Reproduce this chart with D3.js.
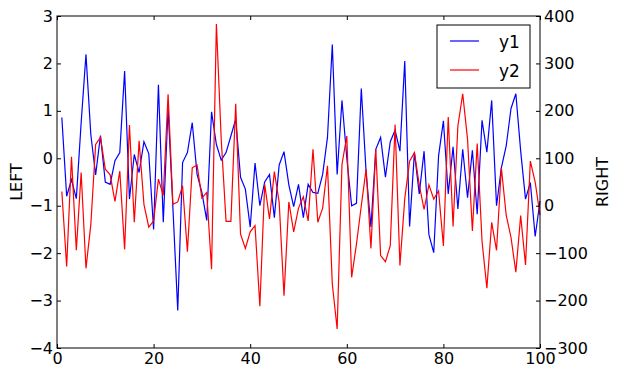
<!DOCTYPE html>
<html>
<head>
<meta charset="utf-8">
<script src="https://cdn.jsdelivr.net/npm/d3@7"></script>
<style>
  body { margin: 0; background: #fff; }
  text { font-family: "DejaVu Sans", sans-serif; }
</style>
</head>
<body>
<svg width="619" height="377"></svg>
<script>
// x runs 1..100
var xs = d3.range(1, 101);

// left axis series
var y1 = [0.86, -0.8, -0.45, -0.85, 0.75, 2.19, 0.5, -0.35, 0.48, -0.5,
  -0.55, -0.05, 0.12, 1.84, -0.86, 0.08, -0.3, 0.35, 0.1, -1.5,
  1.55, -1.35, 1.05, -1.05, -3.21, -0.09, 0.12, 0.75, -0.34, -0.72,
  -1.31, 0.98, 0.29, -0.04, 0.12, 0.47, 0.82, -0.4, -0.65, -1.45,
  -0.1, -1.0, -0.5, -0.34, -1.25, -0.14, 0.14, -0.56, -1.02, -0.55,
  -1.25, -0.55, -0.72, -0.74, -0.34, 0.44, 2.4, -0.34, 1.22, 0.0,
  -1.0, -0.95, 1.47, -0.3, -1.45, 0.19, 0.44, -0.4, 0.35, 0.59,
  0.15, 2.05, -1.44, 0.12, -0.75, 0.15, -1.61, -1.99, 0.05, 0.79,
  -0.75, 0.24, -1.07, 0.19, -0.83, 0.17, -1.18, 0.8, 0.13, 1.22,
  -1.0, -0.2, 0.26, 1.05, 1.36, 0.15, -0.86, -0.51, -1.65, -0.9];

// right axis series
var y2 = [30, -128, 103, -94, 70, -132, -40, 129, 144, 77,
  65, 9, 73, -92, 170, -35, 137, 3, -45, -32,
  56, 22, 235, 3, 8, 42, -97, 80, 86, 16,
  28, -134, 383, 140, -33, -33, 215, -60, -90, -55,
  -42, -212, 45, -28, 72, 7, -190, 8, -55, -5,
  19, -32, 119, -35, -5, 84, -165, -260, 87, 147,
  -151, -81, 0, 77, -90, 119, -105, -118, -84, 171,
  -126, 15, 94, 112, 44, -8, 44, 14, 31, -85,
  187, -44, 168, 236, 140, -53, 131, -75, -174, -35,
  -94, 80, -20, -67, -140, -21, -125, 94, 50, -20];

var xTicks = [0, 20, 40, 60, 80, 100];
var leftTicks = [-4, -3, -2, -1, 0, 1, 2, 3];
var rightTicks = [-300, -200, -100, 0, 100, 200, 300, 400];
var seriesNames = ["y1", "y2"];
var seriesColors = ["#0000ff", "#ff0000"];

var svg = d3.select("svg");
var plotL = 57, plotR = 540, plotT = 16, plotB = 348;

var x = d3.scaleLinear().domain([0, 100]).range([plotL, plotR]);
var yL = d3.scaleLinear().domain([-4, 3]).range([plotB, plotT]);
var yR = d3.scaleLinear().domain([-300, 400]).range([plotB, plotT]);

var fmt = d3.format("d");

// lines
var line1 = d3.line().x(function (d, i) { return x(xs[i]); }).y(function (d) { return yL(d); });
var line2 = d3.line().x(function (d, i) { return x(xs[i]); }).y(function (d) { return yR(d); });

svg.append("path").datum(y1)
  .attr("d", line1).attr("fill", "none")
  .attr("stroke", seriesColors[0]).attr("stroke-width", 1.2);

svg.append("path").datum(y2)
  .attr("d", line2).attr("fill", "none")
  .attr("stroke", seriesColors[1]).attr("stroke-width", 1.2);

// axes, ticks pointing inward
function styleAxis(g) {
  g.select(".domain").remove();
  g.selectAll("text").attr("font-size", 16).attr("fill", "#000")
    .attr("font-family", "DejaVu Sans, sans-serif");
  g.selectAll("line").attr("stroke", "#000");
}

svg.append("g").attr("transform", "translate(0," + plotB + ")")
  .call(d3.axisBottom(x).tickValues(xTicks).tickFormat(fmt).tickSizeInner(-4).tickSizeOuter(0).tickPadding(5))
  .call(styleAxis);

svg.append("g").attr("transform", "translate(0," + plotT + ")")
  .call(d3.axisTop(x).tickValues(xTicks).tickSizeInner(-4).tickSizeOuter(0).tickFormat(""))
  .call(styleAxis);

svg.append("g").attr("transform", "translate(" + plotL + ",0)")
  .call(d3.axisLeft(yL).tickValues(leftTicks).tickFormat(fmt).tickSizeInner(-4).tickSizeOuter(0).tickPadding(4))
  .call(styleAxis);

svg.append("g").attr("transform", "translate(" + plotR + ",0)")
  .call(d3.axisRight(yR).tickValues(rightTicks).tickFormat(fmt).tickSizeInner(-4).tickSizeOuter(0).tickPadding(4))
  .call(styleAxis);

// frame
svg.append("rect")
  .attr("x", plotL).attr("y", plotT)
  .attr("width", plotR - plotL).attr("height", plotB - plotT)
  .attr("fill", "none").attr("stroke", "#000").attr("stroke-width", 1);

// axis titles
svg.append("text")
  .attr("transform", "translate(22," + (plotT + plotB) / 2 + ") rotate(-90)")
  .attr("text-anchor", "middle")
  .attr("font-size", 16)
  .text("LEFT");

svg.append("text")
  .attr("transform", "translate(608," + (plotT + plotB) / 2 + ") rotate(-90)")
  .attr("text-anchor", "middle")
  .attr("font-size", 16)
  .text("RIGHT");

// legend
var legend = svg.append("g").attr("transform", "translate(437,25)");
legend.append("rect")
  .attr("width", 93).attr("height", 63)
  .attr("fill", "#fff").attr("stroke", "#000").attr("stroke-width", 1);

legend.selectAll("g.item")
  .data(seriesNames)
  .enter()
  .append("g")
  .attr("class", "item")
  .attr("transform", function (d, i) { return "translate(0," + (16 + i * 29) + ")"; })
  .each(function (d, i) {
    var g = d3.select(this);
    g.append("line").attr("x1", 13).attr("x2", 42)
      .attr("stroke", seriesColors[i]).attr("stroke-width", 1.2);
    g.append("text").attr("x", 62).attr("y", 7)
      .attr("font-size", 17).text(d);
  });
</script>
</body>
</html>
